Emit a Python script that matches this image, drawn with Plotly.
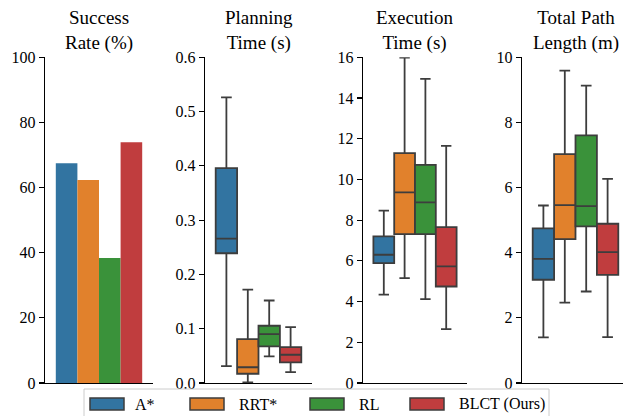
import plotly.graph_objects as go

methods = ["A*", "RRT*", "RL", "BLCT (Ours)"]
colors = ["#3274a1", "#e1812c", "#3a923a", "#c03d3e"]

success_rate = [67.5, 62.3, 38.4, 73.9]

# box stats: lower whisker, Q1, median, Q3, upper whisker
planning_low = [0.031, 0.001, 0.049, 0.020]
planning_q1 = [0.239, 0.017, 0.0675, 0.038]
planning_med = [0.266, 0.029, 0.090, 0.052]
planning_q3 = [0.396, 0.081, 0.1055, 0.066]
planning_high = [0.526, 0.172, 0.152, 0.103]

exec_low = [4.34, 5.15, 4.12, 2.65]
exec_q1 = [5.89, 7.31, 7.31, 4.74]
exec_med = [6.30, 9.36, 8.87, 5.73]
exec_q3 = [7.20, 11.29, 10.72, 7.66]
exec_high = [8.47, 15.98, 14.94, 11.65]

path_low = [1.40, 2.47, 2.81, 1.41]
path_q1 = [3.17, 4.42, 4.81, 3.32]
path_med = [3.81, 5.46, 5.43, 4.02]
path_q3 = [4.75, 7.03, 7.60, 4.89]
path_high = [5.45, 9.59, 9.13, 6.27]

titles = ["Success<br>Rate (%)", "Planning<br>Time (s)", "Execution<br>Time (s)", "Total Path<br>Length (m)"]

W, H = 623, 416
FONT = "Liberation Serif"
LINE = "#3d3d3d"

fig = go.Figure()

# axis domains in px
xdoms = [(45, 153), (205, 312), (363, 467), (522, 623)]
ytop, ybot = 57.3, 383
ydom = [(H - ybot) / H, (H - ytop) / H]

cat = ["m"]
for i, m in enumerate(methods):
    fig.add_trace(go.Bar(x=cat, y=[success_rate[i]], name=m, marker=dict(color=colors[i], line=dict(width=0)),
                         xaxis="x", yaxis="y", showlegend=False, offsetgroup=str(i)))

stats = [
    (planning_low, planning_q1, planning_med, planning_q3, planning_high),
    (exec_low, exec_q1, exec_med, exec_q3, exec_high),
    (path_low, path_q1, path_med, path_q3, path_high),
]
for p, (lo, q1, md, q3, hi) in enumerate(stats):
    ax = str(p + 2)
    for i, m in enumerate(methods):
        fig.add_trace(go.Box(x=cat, lowerfence=[lo[i]], q1=[q1[i]], median=[md[i]], q3=[q3[i]], upperfence=[hi[i]],
                             name=m, fillcolor=colors[i], line=dict(color=LINE, width=1.8), whiskerwidth=0.5,
                             boxpoints=False, xaxis="x" + ax, yaxis="y" + ax, showlegend=False, offsetgroup=str(i)))

yranges = [[0, 100], [0, 0.6], [0, 16], [0, 10]]
ytickvals = [list(range(0, 101, 20)), [0, 0.1, 0.2, 0.3, 0.4, 0.5, 0.6], list(range(0, 17, 2)), list(range(0, 11, 2))]
yfmt = ["d", ".1f", "d", "d"]

layout = dict(
    width=W, height=H, margin=dict(l=0, r=0, t=0, b=0, pad=0, autoexpand=False),
    paper_bgcolor="white", plot_bgcolor="white",
    font=dict(family=FONT, size=16, color="black"),
    barmode="group", bargap=0.2, bargroupgap=0,
    boxmode="group", boxgap=0.2, boxgroupgap=0,
    showlegend=False,
)
for k in range(4):
    sfx = "" if k == 0 else str(k + 1)
    x0, x1 = xdoms[k]
    xr = [-0.5, 0.5]
    if k == 3:
        xr = [-0.5, -0.5 + (x1 - x0) / 107.0]
    layout["xaxis" + sfx] = dict(domain=[x0 / W, x1 / W], anchor="y" + sfx, type="category", range=xr,
                                 showticklabels=False, ticks="", showline=True, linecolor="black", linewidth=1.25,
                                 showgrid=False, zeroline=False, fixedrange=True, automargin=False)
    layout["yaxis" + sfx] = dict(domain=ydom, anchor="x" + sfx, range=yranges[k], tickvals=ytickvals[k],
                                 tickformat=yfmt[k], ticks="outside", ticklen=5, tickwidth=1.25, tickcolor="black",
                                 showline=True, linecolor="black", linewidth=1.25, showgrid=False, zeroline=False,
                                 tickfont=dict(size=16, family=FONT), automargin=False)
fig.update_layout(**layout)

# titles
for k in range(4):
    x0, x1 = xdoms[k]
    cx = (x0 + x1) / 2 if k != 3 else (x0 + x0 + 107) / 2
    fig.add_annotation(text=titles[k], x=cx / W, y=(H - 31) / H, xref="paper", yref="paper",
                       showarrow=False, xanchor="center", yanchor="middle", font=dict(size=19, family=FONT))

# legend drawn manually
lx0, lx1, ly0, ly1 = 84, 549, 389, 422
def px(x): return x / W
def py(y): return 1 - y / H
fig.add_shape(type="rect", xref="paper", yref="paper", x0=px(lx0), x1=px(lx1), y0=py(ly1), y1=py(ly0),
              line=dict(color="#cccccc", width=1), fillcolor="rgba(255,255,255,0.8)", layer="above")
patch_x = [90, 190, 310, 410]
text_x = [133, 237, 357, 457]
for i, m in enumerate(methods):
    fig.add_shape(type="rect", xref="paper", yref="paper", x0=px(patch_x[i]), x1=px(patch_x[i] + 34),
                  y0=py(410), y1=py(398), fillcolor=colors[i], line=dict(color=LINE, width=1.5), layer="above")
    fig.add_annotation(text=m, x=px(text_x[i]), y=py(404), xref="paper", yref="paper", showarrow=False,
                       xanchor="left", yanchor="middle", font=dict(size=16, family=FONT))

fig.write_html("out.html", config={"displayModeBar": False, "staticPlot": True},
               post_script="document.body.style.margin='0px';document.body.style.overflow='hidden';")
